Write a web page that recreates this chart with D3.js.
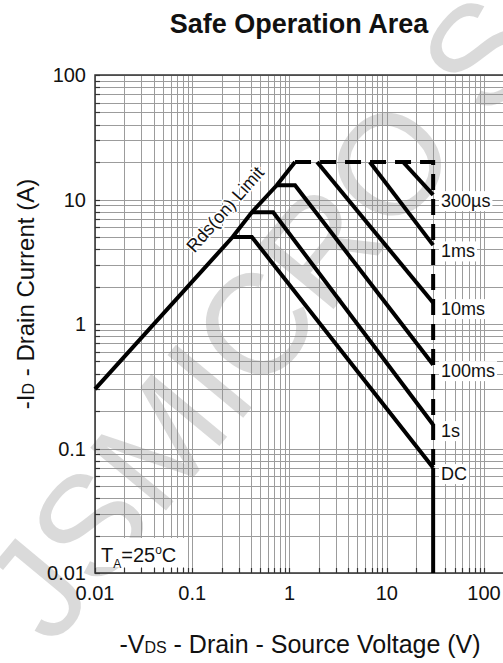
<!DOCTYPE html>
<html>
<head>
<meta charset="utf-8">
<script src="https://cdn.jsdelivr.net/npm/d3@7"></script>
<style>
  body { margin: 0; background: #fff; }
  svg { display: block; font-family: "Liberation Sans", Arial, sans-serif; }
</style>
</head>
<body>
<svg id="chart" width="503" height="663"></svg>
<script>
// Axis ticks (log decades)
const xTicks = [0.01, 0.1, 1, 10, 100];
const xTickLabels = ["0.01", "0.1", "1", "10", "100"];
const yTicks = [0.01, 0.1, 1, 10, 100];
const yTickLabels = ["0.01", "0.1", "1", "10", "100"];

// Safe operating area curves, [VDS (V), ID (A)]
const rdsLimit = [[0.01, 0.3], [0.26, 5], [0.41, 7.9], [0.74, 13], [1.14, 20]];
const envelope = [[1.14, 20], [30, 20], [30, 0.07]];
const dcTail = [[30, 0.07], [30, 0.01]];
const pulseNames = ["300µs", "1ms", "10ms", "100ms", "1s", "DC"];
const pulseCurves = [
  [[14.7, 20], [30, 10.9]],
  [[6.7, 20], [30, 4.3]],
  [[1.92, 20], [30, 1.48]],
  [[0.74, 13], [1.14, 13], [30, 0.47]],
  [[0.41, 7.9], [0.68, 7.9], [30, 0.155]],
  [[0.26, 5], [0.41, 5], [30, 0.07]]
];

const svg = d3.select("#chart");
const plotLeft = 95, plotTop = 75, plotBottom = 573, xEnd = 484, frameRight = 506;

const x = d3.scaleLog().domain([0.01, 100]).range([plotLeft, xEnd]);
const y = d3.scaleLog().domain([0.01, 100]).range([plotBottom, plotTop]);

// 1..9 per decade grid values
const gridVals = [];
for (let e = -2; e <= 1; e++) for (let m = 1; m <= 9; m++) gridVals.push(m * Math.pow(10, e));
gridVals.push(100);

const grid = svg.append("g").attr("stroke", "#9c9c9c").attr("stroke-width", 1);
grid.selectAll("line.v").data(gridVals).join("line")
  .attr("class", "v")
  .attr("x1", d => Math.round(x(d)) + 0.5).attr("x2", d => Math.round(x(d)) + 0.5)
  .attr("y1", plotTop).attr("y2", plotBottom);
grid.selectAll("line.h").data(gridVals).join("line")
  .attr("class", "h")
  .attr("y1", d => Math.round(y(d)) + 0.5).attr("y2", d => Math.round(y(d)) + 0.5)
  .attr("x1", plotLeft).attr("x2", frameRight);

// Watermark, clipped to the page
svg.append("clipPath").attr("id", "page").append("rect")
  .attr("width", 503).attr("height", 663);
svg.append("g").attr("clip-path", "url(#page)")
  .append("text")
  .attr("transform", "translate(52,648) rotate(-50.3)")
  .attr("font-size", 143)
  .attr("fill", "#8c8c8c")
  .attr("fill-opacity", 0.32)
  .text("JSMICRO SEMI");

// Frame
const frame = svg.append("g").attr("stroke", "#333").attr("stroke-width", 1.5).attr("fill", "none");
frame.append("path").attr("d", `M${frameRight},${plotTop}H${plotLeft}V${plotBottom}H${frameRight}`);

// Short inward ticks on left and bottom
const ticks = svg.append("g").attr("stroke", "#333").attr("stroke-width", 1.2);
ticks.selectAll("line.bx").data(gridVals).join("line").attr("class", "bx")
  .attr("x1", d => Math.round(x(d)) + 0.5).attr("x2", d => Math.round(x(d)) + 0.5)
  .attr("y1", plotBottom).attr("y2", plotBottom - 5);
ticks.selectAll("line.ly").data(gridVals).join("line").attr("class", "ly")
  .attr("y1", d => Math.round(y(d)) + 0.5).attr("y2", d => Math.round(y(d)) + 0.5)
  .attr("x1", plotLeft).attr("x2", plotLeft + 5);

// Temperature note
const ta = svg.append("g");
ta.append("rect").attr("x", plotLeft + 1).attr("y", 538).attr("width", 90).attr("height", plotBottom - 538 - 6).attr("fill", "#fff");
const taText = ta.append("text").attr("x", 101).attr("y", 562).attr("font-size", 20).attr("fill", "#111");
taText.append("tspan").text("T");
taText.append("tspan").attr("font-size", 12).attr("dy", 6).text("A");
taText.append("tspan").attr("dy", -6).text("=25");
taText.append("tspan").attr("font-size", 12).attr("dy", -8).text("o");
taText.append("tspan").attr("dy", 8).text("C");

// Curves
const line = d3.line().x(d => x(d[0])).y(d => y(d[1]));
const curves = svg.append("g").attr("fill", "none").attr("stroke", "#000")
  .attr("stroke-width", 4).attr("stroke-linejoin", "miter");
curves.append("path").attr("d", line(rdsLimit));
curves.selectAll("path.pulse").data(pulseCurves).join("path").attr("class", "pulse").attr("d", line);
curves.append("path").attr("d", line(envelope)).attr("stroke-dasharray", "16,9");
curves.append("path").attr("d", line(dcTail));

// Curve labels with white backing
const lab = svg.append("g").attr("font-size", 18).attr("fill", "#111");
pulseCurves.forEach((c, i) => {
  const end = c[c.length - 1];
  const cy = y(end[1]) + 6;
  const t = lab.append("text").attr("x", 441).attr("y", cy).attr("dy", "0.35em").text(pulseNames[i]);
  const bb = t.node().getBBox();
  lab.insert("rect", "text").attr("x", bb.x - 2).attr("y", bb.y).attr("width", bb.width + 4)
    .attr("height", bb.height).attr("fill", "#fff");
});

// Rds(on) label along the limit line
const p0 = rdsLimit[0], p1 = rdsLimit[rdsLimit.length - 1];
const ang = Math.atan2(y(p1[1]) - y(p0[1]), x(p1[0]) - x(p0[0]));
const f = 0.73;
const lx = x(p0[0]) + f * (x(p1[0]) - x(p0[0]));
const ly = y(p0[1]) + f * (y(p1[1]) - y(p0[1]));
const off = 15;
svg.append("text")
  .attr("transform", `translate(${lx + off * Math.sin(ang)},${ly - off * Math.cos(ang)}) rotate(${ang * 180 / Math.PI})`)
  .attr("text-anchor", "middle").attr("font-size", 18).attr("fill", "#111")
  .attr("stroke", "#fff").attr("stroke-width", 3).attr("paint-order", "stroke")
  .text("Rds(on) Limit");

// Tick labels
const tl = svg.append("g").attr("font-size", 20).attr("fill", "#111");
tl.selectAll("text.x").data(xTicks).join("text").attr("class", "x")
  .attr("x", d => x(d)).attr("y", 600).attr("text-anchor", "middle")
  .text((d, i) => xTickLabels[i]);
tl.selectAll("text.y").data(yTicks).join("text").attr("class", "y")
  .attr("x", 86).attr("y", d => y(d)).attr("dy", "0.35em").attr("text-anchor", "end")
  .text((d, i) => yTickLabels[i]);

// Title
svg.append("text").attr("x", 299).attr("y", 33).attr("text-anchor", "middle")
  .attr("font-size", 27).attr("font-weight", "bold").attr("fill", "#111")
  .text("Safe Operation Area");

// Axis titles
const xt = svg.append("text").attr("x", 300).attr("y", 653).attr("text-anchor", "middle")
  .attr("font-size", 25).attr("fill", "#111");
xt.append("tspan").text("-V");
xt.append("tspan").attr("font-size", 16).text("DS");
xt.append("tspan").text(" - Drain - Source Voltage (V)");

const yt = svg.append("text").attr("transform", "translate(34,294) rotate(-90)")
  .attr("text-anchor", "middle").attr("font-size", 24).attr("fill", "#111");
yt.append("tspan").text("-I");
yt.append("tspan").attr("font-size", 16).text("D");
yt.append("tspan").text(" - Drain Current (A)");
</script>
</body>
</html>
